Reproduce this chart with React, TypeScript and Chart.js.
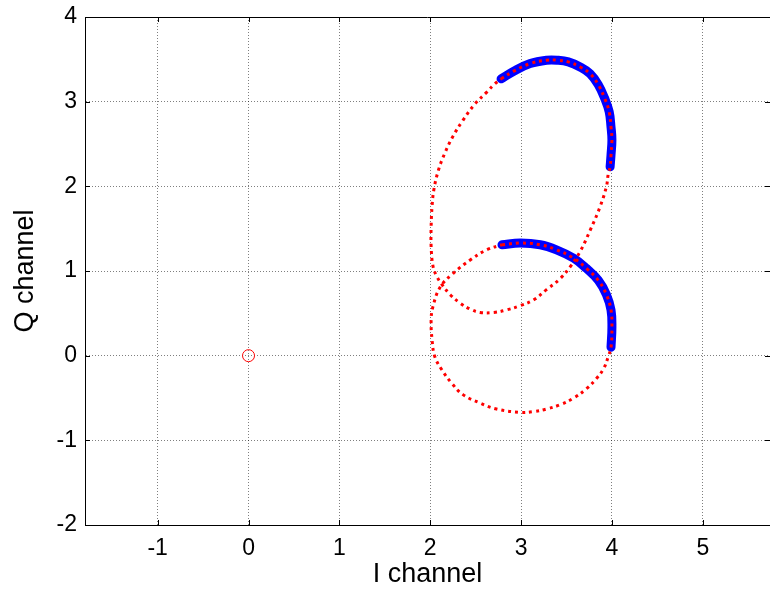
import React, { useEffect, useRef } from 'react';
import { Chart, registerables } from 'chart.js';

Chart.register(...registerables);

const FONT = '"Liberation Sans", Arial, Helvetica, sans-serif';

// Axis ticks
const xTicks = [-1, 0, 1, 2, 3, 4, 5];
const yTicks = [-2, -1, 0, 1, 2, 3, 4];

// Upper loop: the highlighted (blue) arc, then the return path back to its start
const upperArcI = [2.78, 2.92, 3.1, 3.28, 3.4, 3.52, 3.65, 3.76, 3.85, 3.92, 3.97, 3.99, 4.0, 3.99, 3.98];
const upperArcQ = [3.27, 3.36, 3.45, 3.49, 3.49, 3.47, 3.41, 3.33, 3.2, 3.04, 2.88, 2.7, 2.55, 2.37, 2.23];
const upperReturnI = [3.96, 3.94, 3.87, 3.76, 3.65, 3.54, 3.43, 3.28, 3.14, 2.99, 2.84, 2.7, 2.55, 2.44, 2.33, 2.22, 2.13, 2.07, 2.03, 2.01, 2.01, 2.02, 2.04, 2.09, 2.16, 2.25, 2.36, 2.49, 2.62, 2.71, 2.78];
const upperReturnQ = [2.15, 2.0, 1.76, 1.48, 1.23, 1.05, 0.91, 0.78, 0.66, 0.59, 0.54, 0.51, 0.51, 0.55, 0.62, 0.72, 0.84, 0.94, 1.06, 1.29, 1.52, 1.76, 1.96, 2.19, 2.39, 2.59, 2.78, 2.97, 3.11, 3.21, 3.27];

// Lower loop: the highlighted (blue) arc, then the return path back to its start
const lowerArcI = [2.79, 2.99, 3.21, 3.39, 3.58, 3.72, 3.85, 3.94, 3.99, 4.0, 3.99];
const lowerArcQ = [1.31, 1.33, 1.31, 1.25, 1.15, 1.03, 0.89, 0.72, 0.54, 0.34, 0.1];
const lowerReturnI = [3.96, 3.91, 3.83, 3.72, 3.58, 3.43, 3.28, 3.14, 2.99, 2.73, 2.55, 2.36, 2.24, 2.13, 2.05, 2.02, 2.01, 2.03, 2.11, 2.25, 2.44, 2.62, 2.79];
const lowerReturnQ = [-0.01, -0.15, -0.27, -0.39, -0.5, -0.58, -0.63, -0.66, -0.67, -0.63, -0.56, -0.46, -0.33, -0.17, -0.01, 0.19, 0.42, 0.58, 0.81, 0.97, 1.13, 1.25, 1.31];

// Reference point at the origin
const originI = [0];
const originQ = [0];

const toPoints = (xs: number[], ys: number[]) => xs.map((x, i) => ({ x, y: ys[i] }));

// Box outline on top plus inward-pointing tick marks
const boxTicks = {
  id: 'boxTicks',
  afterDraw(chart: any) {
    const { ctx, chartArea } = chart;
    const { left, right, top, bottom } = chartArea;
    const xs = chart.scales.x;
    const ys = chart.scales.y;
    ctx.save();
    ctx.strokeStyle = '#000';
    ctx.lineWidth = 1;
    ctx.beginPath();
    ctx.moveTo(left, top + 0.5);
    ctx.lineTo(right, top + 0.5);
    const len = 5;
    xTicks.forEach((v) => {
      const px = Math.round(xs.getPixelForValue(v)) + 0.5;
      ctx.moveTo(px, bottom);
      ctx.lineTo(px, bottom - len);
      ctx.moveTo(px, top);
      ctx.lineTo(px, top + len);
    });
    yTicks.forEach((v) => {
      const py = Math.round(ys.getPixelForValue(v)) + 0.5;
      ctx.moveTo(left, py);
      ctx.lineTo(left + len, py);
      ctx.moveTo(right, py);
      ctx.lineTo(right - len, py);
    });
    ctx.stroke();
    ctx.restore();
  },
};

// Keep tick labels from pushing the plot area inwards
const noLabelPadding = (scale: any) => {
  scale.paddingTop = 0;
  scale.paddingBottom = 0;
  scale.paddingLeft = 0;
  scale.paddingRight = 0;
};

export default function App() {
  const canvasRef = useRef<HTMLCanvasElement | null>(null);

  useEffect(() => {
    if (!canvasRef.current) return;
    const redLine = {
      showLine: true,
      borderColor: '#ff0000',
      borderWidth: 3,
      borderDash: [3, 4],
      borderCapStyle: 'butt',
      pointRadius: 0,
      tension: 0.4,
      fill: false,
      order: 0,
    };
    const blueLine = {
      showLine: true,
      borderColor: '#0000ff',
      borderWidth: 9,
      borderCapStyle: 'round',
      borderJoinStyle: 'round',
      pointRadius: 0,
      tension: 0.4,
      fill: false,
      order: 2,
    };
    const chart = new Chart(canvasRef.current, {
      type: 'scatter',
      data: {
        datasets: [
          { ...redLine, label: 'upper loop', data: toPoints([...upperArcI, ...upperReturnI], [...upperArcQ, ...upperReturnQ]) },
          { ...redLine, label: 'lower loop', data: toPoints([...lowerArcI, ...lowerReturnI], [...lowerArcQ, ...lowerReturnQ]) },
          { ...blueLine, label: 'upper arc', data: toPoints(upperArcI, upperArcQ) },
          { ...blueLine, label: 'lower arc', data: toPoints(lowerArcI, lowerArcQ) },
          {
            label: 'origin',
            data: toPoints(originI, originQ),
            showLine: false,
            pointRadius: 6,
            pointStyle: 'circle',
            pointBackgroundColor: 'rgba(0,0,0,0)',
            pointBorderColor: '#ff0000',
            pointBorderWidth: 1,
            order: 1,
          },
        ] as any,
      },
      options: {
        animation: false,
        responsive: false,
        maintainAspectRatio: false,
        layout: { autoPadding: false, padding: { top: 17, right: 0, left: 0, bottom: 0 } },
        plugins: { legend: { display: false }, tooltip: { enabled: false } },
        scales: {
          x: {
            type: 'linear',
            min: -1.8,
            max: 5.74,
            afterBuildTicks: (axis: any) => {
              axis.ticks = xTicks.map((value) => ({ value }));
            },
            afterFit: (scale: any) => {
              scale.height = 66;
              noLabelPadding(scale);
            },
            ticks: {
              font: { family: FONT, size: 23 },
              color: '#000',
              padding: 10,
              maxRotation: 0,
              autoSkip: false,
            },
            grid: { color: 'rgba(0,0,0,0.5)', lineWidth: 1, drawTicks: false },
            border: { display: true, color: '#000', width: 1, dash: [1, 2] },
            title: {
              display: true,
              text: 'I channel',
              color: '#000',
              font: { family: FONT, size: 27 },
              padding: { top: 0, bottom: 0 },
            },
          },
          y: {
            type: 'linear',
            min: -2,
            max: 4,
            afterBuildTicks: (axis: any) => {
              axis.ticks = yTicks.map((value) => ({ value }));
            },
            afterFit: (scale: any) => {
              scale.width = 85;
              noLabelPadding(scale);
            },
            ticks: {
              font: { family: FONT, size: 23 },
              color: '#000',
              padding: 8,
              autoSkip: false,
            },
            grid: { color: 'rgba(0,0,0,0.5)', lineWidth: 1, drawTicks: false },
            border: { display: true, color: '#000', width: 1, dash: [1, 2] },
            title: {
              display: true,
              text: 'Q channel',
              color: '#000',
              font: { family: FONT, size: 27 },
              padding: { top: 9, bottom: 0 },
            },
          },
        },
      } as any,
      plugins: [boxTicks],
    });
    return () => chart.destroy();
  }, []);

  return (
    <div style={{ position: 'absolute', left: 0, top: 0, width: 770, height: 591, background: '#fff' }}>
      <canvas ref={canvasRef} width={770} height={591} style={{ display: 'block', width: 770, height: 591 }} />
    </div>
  );
}
